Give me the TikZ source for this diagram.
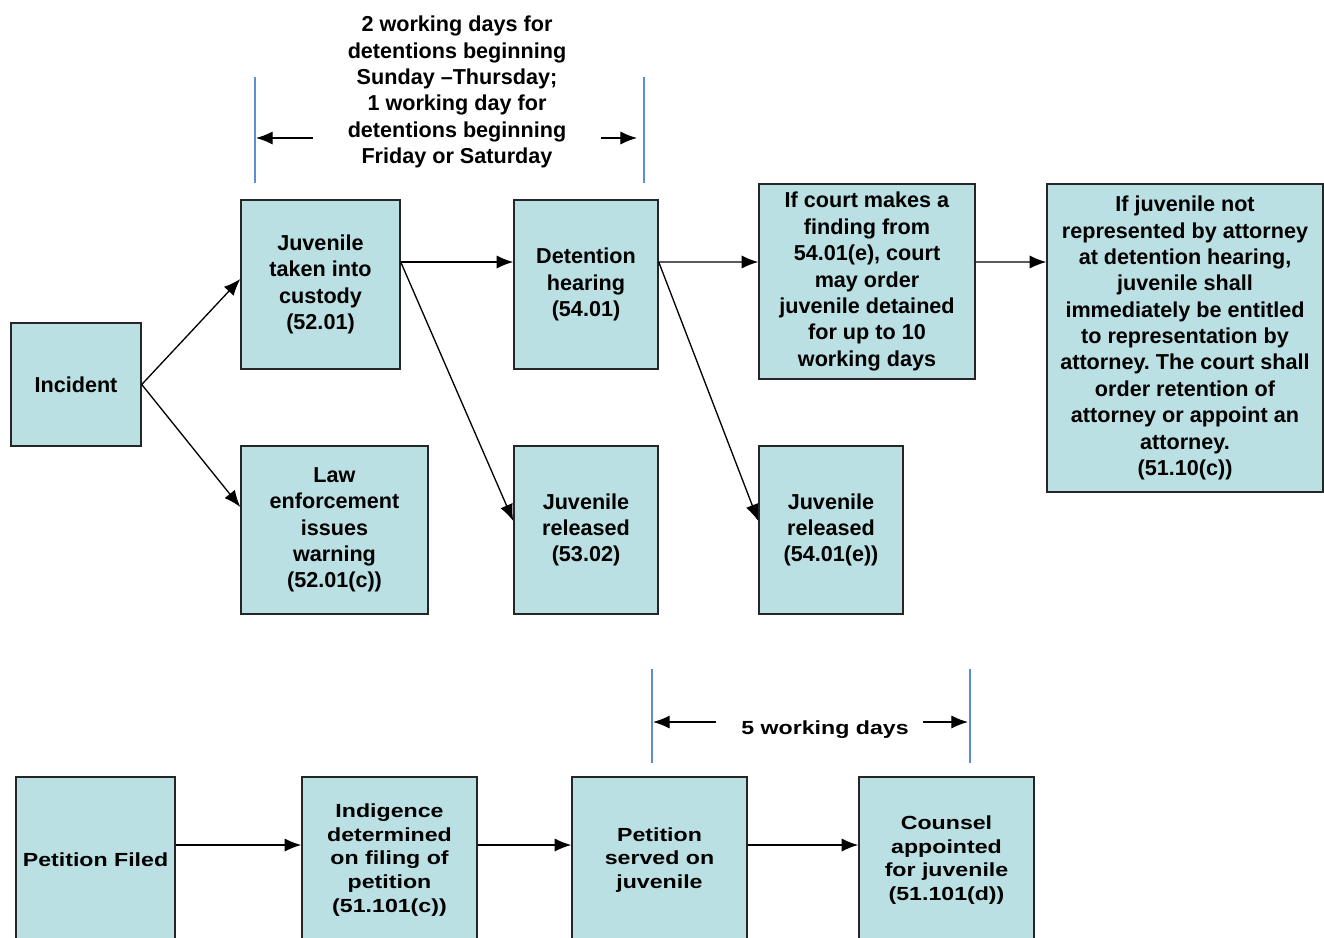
\documentclass[tikz,border=0pt]{standalone}
\usepackage{fontspec}
\setmainfont{Liberation Sans}
\newfontfamily\widefont[FakeStretch=1.22]{Liberation Sans}
\usetikzlibrary{shapes,arrows.meta,positioning}
\frenchspacing
\definecolor{boxfill}{RGB}{186,224,227}
\definecolor{spanblue}{RGB}{91,143,209}
\tikzstyle{stepbox}  = [rectangle, draw=black!85, fill=boxfill, line width=0.85pt, align=center, inner sep=0pt, font=\bfseries\fontsize{12.3}{15}\selectfont]
\tikzstyle{lowbox}   = [stepbox, font=\widefont\bfseries\fontsize{10.8}{13.4}\selectfont]
\tikzstyle{line}     = [draw, line width=0.75pt, -{Latex[length=9.5pt,width=7.5pt]}]
\tikzstyle{spanline} = [draw=spanblue, line width=0.7pt]
\tikzstyle{note}     = [align=center, inner sep=0pt, font=\bfseries\fontsize{12.3}{15}\selectfont]

\begin{document}
\begin{tikzpicture}[x=0.02cm, y=-0.02cm]
        \useasboundingbox (0,0) rectangle (1324,937);
        \clip (0,0) rectangle (1324,937);

        % upper chain
        \node [stepbox, minimum width=2.6cm, minimum height=2.46cm] (incident) at (76,384.5) {Incident};
        \node [stepbox, minimum width=3.18cm, minimum height=3.38cm] (custody) at (320.5,284.5) {Juvenile\\taken into\\custody\\(52.01)};
        \node [stepbox, minimum width=3.74cm, minimum height=3.36cm] (warning) at (334.5,530) {Law\\enforcement\\issues\\warning\\(52.01(c))};
        \node [stepbox, minimum width=2.88cm, minimum height=3.38cm] (hearing) at (586,284.5) {Detention\\hearing\\(54.01)};
        \node [stepbox, minimum width=2.88cm, minimum height=3.36cm] (release1) at (586,530) {Juvenile\\released\\(53.02)};
        \node [stepbox, minimum width=4.32cm, minimum height=3.9cm] (finding) at (867,281.5) {If court makes a\\finding from\\54.01(e), court\\may order\\juvenile detained\\for up to 10\\working days};
        \node [stepbox, minimum width=2.88cm, minimum height=3.36cm] (release2) at (831,530) {Juvenile\\released\\(54.01(e))};
        \node [stepbox, minimum width=5.52cm, minimum height=6.16cm] (attorney) at (1185,338) {If juvenile not\\represented by attorney\\at detention hearing,\\juvenile shall\\immediately be entitled\\to representation by\\attorney. The court shall\\order retention of\\attorney or appoint an\\attorney.\\(51.10(c))};

        % lower chain
        \node [lowbox, minimum width=3.18cm, minimum height=3.32cm] (filed) at (95.5,860) {Petition Filed};
        \node [lowbox, minimum width=3.5cm, minimum height=3.32cm] (indigence) at (389.5,860) {Indigence\\determined\\on filing of\\petition\\(51.101(c))};
        \node [lowbox, minimum width=3.5cm, minimum height=3.32cm] (served) at (659.5,860) {Petition\\served on\\juvenile};
        \node [lowbox, minimum width=3.5cm, minimum height=3.32cm] (counsel) at (946.5,860) {Counsel\\appointed\\for juvenile\\(51.101(d))};

        % time spans
        \node [note] (days2) at (457,92) {2 working days for\\detentions beginning\\Sunday --Thursday;\\1 working day for\\detentions beginning\\Friday or Saturday};
        \node [note, font=\widefont\bfseries\fontsize{10.8}{13.4}\selectfont] (days5) at (825,730) {5 working days};
        \coordinate (top1) at (255,77);   \coordinate (bot1) at (255,183);
        \coordinate (top2) at (644,77);   \coordinate (bot2) at (644,183);
        \coordinate (top3) at (652,669);  \coordinate (bot3) at (652,763);
        \coordinate (top4) at (970,669);  \coordinate (bot4) at (970,763);
        \coordinate (gapL1) at (313,138); \coordinate (gapR1) at (601,138);
        \coordinate (gapL2) at (716,722); \coordinate (gapR2) at (923,722);
        \path [spanline] (top1) -- (bot1);
        \path [spanline] (top2) -- (bot2);
        \path [spanline] (top3) -- (bot3);
        \path [spanline] (top4) -- (bot4);
        \path [line] (gapL1) -- ([xshift=0.02cm]top1 |- gapL1);
        \path [line] (gapR1) -- ([xshift=-0.14cm]top2 |- gapR1);
        \path [line] (gapL2) -- ([xshift=0.02cm]top3 |- gapL2);
        \path [line] (gapR2) -- ([xshift=-0.04cm]top4 |- gapR2);

        % connectors
        \path [line] (incident.east) -- ([yshift=0.11cm]custody.west);
        \path [line] (incident.east) -- ([yshift=0.46cm]warning.west);
        \path [line] ([yshift=0.45cm]custody.east) -- ([yshift=0.45cm]hearing.west);
        \path [line] ([yshift=0.45cm]custody.east) -- ([yshift=0.18cm]release1.west);
        \path [line] ([yshift=0.45cm]hearing.east) -- ([yshift=0.39cm]finding.west);
        \path [line] ([yshift=0.45cm]hearing.east) -- ([yshift=0.18cm]release2.west);
        \path [line] ([yshift=0.39cm]finding.east) -- ([yshift=1.52cm]attorney.west);
        \path [line] ([yshift=0.3cm]filed.east) -- ([yshift=0.3cm]indigence.west);
        \path [line] ([yshift=0.3cm]indigence.east) -- ([yshift=0.3cm]served.west);
        \path [line] ([yshift=0.3cm]served.east) -- ([yshift=0.3cm]counsel.west);
      \end{tikzpicture}
\end{document}
